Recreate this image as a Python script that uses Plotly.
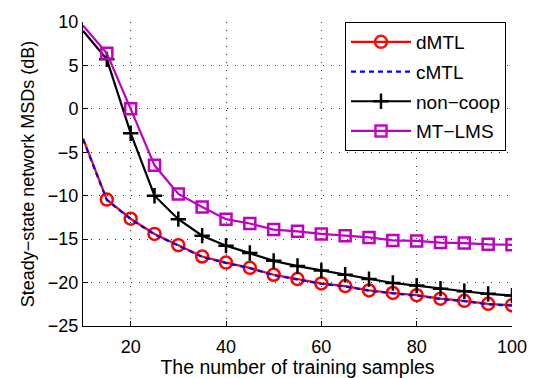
import plotly.graph_objects as go

x = [10, 15, 20, 25, 30, 35, 40, 45, 50, 55, 60, 65, 70, 75, 80, 85, 90, 95, 100]
dmtl = [-3.4, -10.45, -12.65, -14.4, -15.7, -17.0, -17.7, -18.3, -19.1, -19.6,
        -20.1, -20.4, -20.9, -21.2, -21.45, -21.85, -22.1, -22.45, -22.6]
cmtl = [-3.5, -10.5, -12.7, -14.45, -15.75, -17.05, -17.75, -18.35, -19.15, -19.65,
        -20.15, -20.45, -20.95, -21.25, -21.5, -21.9, -22.15, -22.5, -22.65]
noncoop = [9.0, 5.7, -2.8, -10.0, -12.7, -14.6, -15.75, -16.6, -17.5, -18.1,
           -18.6, -19.1, -19.6, -20.05, -20.35, -20.7, -21.0, -21.3, -21.5]
mtlms = [9.6, 6.4, 0.0, -6.5, -9.8, -11.3, -12.7, -13.2, -13.9, -14.1,
         -14.4, -14.6, -14.8, -15.15, -15.2, -15.4, -15.45, -15.6, -15.65]

xticks = [20, 40, 60, 80, 100]
yticks = [-25, -20, -15, -10, -5, 0, 5, 10]

# no marker drawn on the first (x=10) sample, as in the reference
mop = [0] + [1] * (len(x) - 1)

font = "Liberation Sans"
fig = go.Figure()
fig.add_trace(go.Scatter(x=x, y=dmtl, name="dMTL", mode="lines+markers", legendgroup="a",
                         line=dict(color="#FF0000", width=2.2),
                         marker=dict(symbol="circle-open", size=12, color="#FF0000",
                                     opacity=mop,
                                     line=dict(width=2.5, color="#FF0000"))))
fig.add_trace(go.Scatter(x=x, y=cmtl, name="cMTL", mode="lines", legendgroup="b",
                         line=dict(color="#0000FF", width=2.2, dash="5px,4px")))
fig.add_trace(go.Scatter(x=x, y=noncoop, name="non\u2212coop", mode="lines+markers",
                         legendgroup="c",
                         line=dict(color="#000000", width=2.2),
                         marker=dict(symbol="cross-thin-open", size=11, color="#000000",
                                     opacity=mop,
                                     line=dict(width=2.5, color="#000000"))))
fig.add_trace(go.Scatter(x=x, y=mtlms, name="MT\u2212LMS", mode="lines+markers",
                         legendgroup="d",
                         line=dict(color="#BF00BF", width=2.2),
                         marker=dict(symbol="square-open", size=11, color="#BF00BF",
                                     opacity=mop,
                                     line=dict(width=2.5, color="#BF00BF"))))

fig.update_layout(
    width=536, height=378,
    margin=dict(l=83, r=24, t=22, b=52),
    paper_bgcolor="white", plot_bgcolor="white",
    font=dict(family=font, size=18, color="black"),
    showlegend=True,
    legend=dict(x=0.986, y=1.0, xanchor="right", yanchor="top",
                bordercolor="black", borderwidth=1, bgcolor="white",
                font=dict(size=19), itemwidth=60, tracegroupgap=2),
    xaxis=dict(range=[10, 100], tickvals=xticks, showline=True, linecolor="black",
               linewidth=1, ticks="inside", ticklen=5, tickcolor="black",
               showgrid=True, gridcolor="#333333", griddash="1px,7px", gridwidth=1,
               zeroline=False, mirror=False, ticklabelstandoff=4, automargin=False,
               title=dict(text="The number of training samples", standoff=2,
                          font=dict(size=19.5))),
    yaxis=dict(range=[-25, 10], tickvals=yticks, showline=True, linecolor="black",
               linewidth=1, ticks="inside", ticklen=5, tickcolor="black",
               showgrid=True, gridcolor="#333333", griddash="1px,7px", gridwidth=1,
               zeroline=False, mirror=False, automargin=False,
               title=dict(text="Steady\u2212state network MSDs (dB)", standoff=8,
                          font=dict(size=18))),
)
fig.write_html("out.html")
